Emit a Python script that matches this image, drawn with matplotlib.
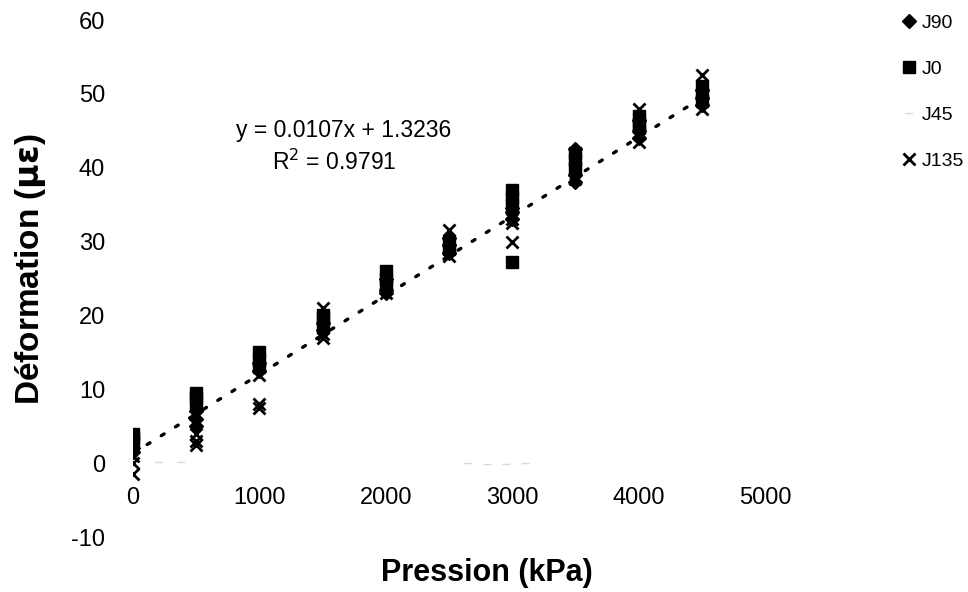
import matplotlib.pyplot as plt
import numpy as np

plt.rcParams['font.family'] = ['Liberation Sans', 'DejaVu Sans']
plt.rcParams['axes.unicode_minus'] = False

# pressures (kPa) and strain readings per series
pressure = [0, 500, 1000, 1500, 2000, 2500, 3000, 3500, 4000, 4500]

j90 = [[2.0, 1.5], [7.0, 6.0, 5.0], [13.5, 12.5], [19.0, 18.0], [25.0, 23.5, 23.0],
       [30.5, 29.5, 28.5], [34.0, 33.0, 34.5], [42.5, 39.0, 38.0], [46.5, 45.0, 44.0],
       [50.5, 49.5, 48.5]]
j0 = [[4.0, 3.5, 3.0], [9.5, 9.0, 8.0], [15.0, 14.0, 13.0], [20.0, 19.5, 18.5],
      [26.0, 25.0, 24.0], [30.0, 29.0], [37.0, 36.0, 35.0, 27.3], [42.0, 41.0, 40.0],
      [46.0, 47.0, 45.5], [51.0, 50.0, 49.0]]
j135 = [[1.0, 0.0, -1.5], [4.0, 3.0, 2.5], [12.0, 8.0, 7.5], [21.0, 17.5, 17.0],
        [24.0, 23.0], [31.5, 29.0, 28.0], [33.0, 32.5, 30.0], [41.0, 40.0, 38.5],
        [48.0, 44.5, 43.5], [52.5, 49.0, 48.0]]
# J45 readings sit near zero and are printed almost invisible
j45_p = [200, 380, 2650, 2800, 2950, 3100]
j45 = [0.1, 0.1, 0.0, -0.1, -0.1, 0.0]

slope, intercept = 0.0107, 1.3236


def flat(p, groups):
    xs, ys = [], []
    for x, g in zip(p, groups):
        xs += [x] * len(g)
        ys += g
    return xs, ys


fig = plt.figure(figsize=(9.68, 5.92), dpi=100)
ax = fig.add_axes([0.1374, 0.0929, 0.653, 0.8733])

x, y = flat(pressure, j90)
ax.plot(x, y, 'D', color='black', ms=7.5, label='J90')
x, y = flat(pressure, j0)
ax.plot(x, y, 's', color='black', ms=8, label='J0')
ax.plot(j45_p, j45, '_', color='#d8d8d8', ms=6, mew=1, label='J45')
x, y = flat(pressure, j135)
ax.plot(x, y, 'x', color='black', ms=8.5, mew=2, label='J135')

# trend line
tx = np.array([0, 4500])
ax.plot(tx, slope * tx + intercept, color='black', lw=2.4,
        linestyle=(0, (1, 4)), dash_capstyle='round')

ax.text(1665, 45.1, f'y = {slope}x + {intercept}', fontsize=16.5, ha='center', va='center')
ax.text(1590, 40.8, 'R$^2$ = 0.9791', fontsize=16.5, ha='center', va='center')

ax.set_xlim(0, 5000)
ax.set_ylim(-10, 60)
ax.set_xticks(range(0, 5001, 1000))
ax.set_yticks(range(-10, 61, 10))
for s in ax.spines.values():
    s.set_visible(False)
ax.spines['bottom'].set_position(('data', 0))
ax.tick_params(axis='x', length=0, pad=17, labelsize=17)
ax.tick_params(axis='y', length=0, pad=20, labelsize=17)

fig.text(0.503, 0.032, 'Pression (kPa)', fontsize=22, fontweight='bold',
         ha='center', va='center')
fig.text(0.032, 0.545, 'Déformation ($\\mathbf{\\mu\\varepsilon}$)', fontsize=24,
         fontweight='bold', rotation=90, ha='center', va='center')

handles, labels = ax.get_legend_handles_labels()
leg = fig.legend(handles, labels, loc='upper left', bbox_to_anchor=(0.91, 1.005),
                 frameon=False, fontsize=14, labelspacing=1.45, handletextpad=0.1,
                 handlelength=1.1)

fig.savefig('out.png', dpi=100)
